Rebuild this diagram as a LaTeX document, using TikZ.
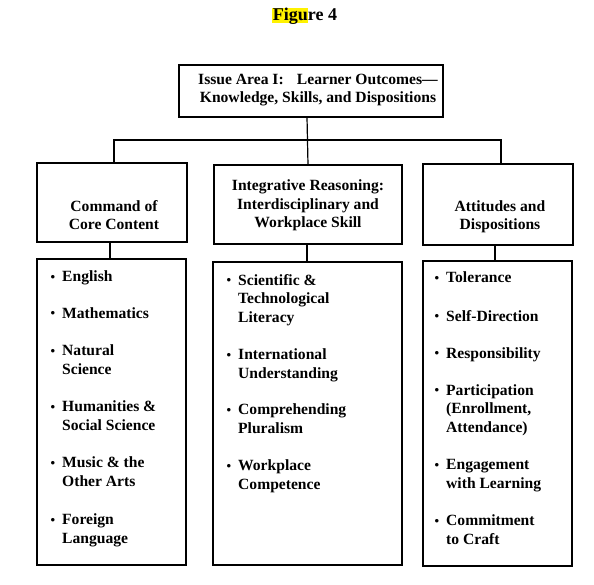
\documentclass[tikz,border=0pt]{standalone}
\usepackage{fontspec}
\setmainfont{Liberation Serif}
\newcommand{\bl}{\makebox[0pt][r]{\fontsize{13}{13}\selectfont\raisebox{0.5pt}{•}\hspace{7pt}}}
\begin{document}
\begin{tikzpicture}[x=1pt,y=-1pt,
  box/.style={draw, line width=1.2pt, inner sep=0pt, outer sep=0pt},
  conn/.style={line width=1.2pt},
  txt/.style={font=\bfseries\fontsize{15.6}{18.5}\selectfont, inner sep=0pt, align=center, anchor=base},
  item/.style={font=\bfseries\fontsize{15.6}{18.3}\selectfont, inner sep=0pt, align=left, anchor=base west},
  hl/.style={fill=yellow, draw=none}]
\useasboundingbox (0,0) rectangle (594,585);
% title
\fill[hl] (272,8.5) rectangle (308,23.5);
\node[txt, font=\bfseries\fontsize{18}{20}\selectfont] (title) at (305,21) {Figure 4};
% boxes
\node[box, minimum width=264pt, minimum height=52pt] (top) at (311,91) {};
\node[box, minimum width=150pt, minimum height=79pt] (lh) at (112,202.5) {};
\node[box, minimum width=188pt, minimum height=79pt] (mh) at (308,204.5) {};
\node[box, minimum width=150pt, minimum height=81pt] (rh) at (498,204.5) {};
\node[box, minimum width=149pt, minimum height=306pt] (ll) at (111.5,412) {};
\node[box, minimum width=189pt, minimum height=303pt] (ml) at (307.5,413.5) {};
\node[box, minimum width=149pt, minimum height=305pt] (rl) at (497.5,413.5) {};
% connectors
\coordinate (bus) at (307,140);
\draw[conn] ([xshift=-4pt]top.south) -- (mh.north);
\draw[conn] ([xshift=2pt]lh.north) -- ([xshift=2pt]lh.north |- bus) -- ([xshift=3pt]rh.north |- bus) -- ([xshift=3pt]rh.north);
\draw[conn] ([xshift=-2pt]lh.south) -- ([xshift=-2pt]lh.south |- ll.north);
\draw[conn] ([xshift=-1pt]mh.south) -- ([xshift=-1pt]mh.south |- ml.north);
\draw[conn] ([xshift=-3pt]rh.south) -- ([xshift=-3pt]rh.south |- rl.north);
% top text (base = last line)
\node[txt] (toptxt) at (318,103) {Issue Area I:\hspace{0.6em} Learner Outcomes---\\Knowledge, Skills, and Dispositions};
% headers
\node[txt] (lht) at (114,230) {Command of\\Core Content};
\node[txt] (mht) at (308,228) {Integrative Reasoning:\\Interdisciplinary and\\Workplace Skill};
\node[txt] (rht) at (500,230) {Attitudes and\\Dispositions};
% left list
\node[item] (l1) at (62,282) {\bl English};
\node[item] (l2) at (62,318) {\bl Mathematics};
\node[item] (l3) at (62,374) {\bl Natural\\Science};
\node[item] (l4) at (62,430) {\bl Humanities \&\\Social Science};
\node[item] (l5) at (62,486) {\bl Music \& the\\Other Arts};
\node[item] (l6) at (62,543) {\bl Foreign\\Language};
% middle list
\node[item] (m1) at (238,322) {\bl Scientific \&\\Technological\\Literacy};
\node[item] (m2) at (238,378) {\bl International\\Understanding};
\node[item] (m3) at (238,433) {\bl Comprehending\\Pluralism};
\node[item] (m4) at (238,489) {\bl Workplace\\Competence};
% right list
\node[item] (r1) at (446,283) {\bl Tolerance};
\node[item] (r2) at (446,321) {\bl Self-Direction};
\node[item] (r3) at (446,358) {\bl Responsibility};
\node[item] (r4) at (446,432) {\bl Participation\\(Enrollment,\\Attendance)};
\node[item] (r5) at (446,488) {\bl Engagement\\with Learning};
\node[item] (r6) at (446,544) {\bl Commitment\\to Craft};
\end{tikzpicture}
\end{document}
